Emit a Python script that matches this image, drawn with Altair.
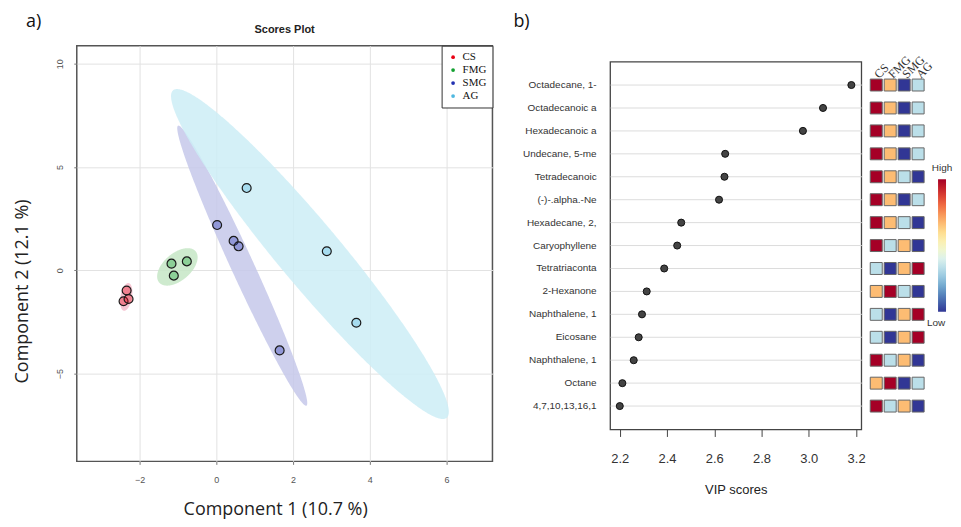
import json
import numpy as np
import pandas as pd
import altair as alt

# ---------------- data: scores plot (panel a) ----------------
groups = ["CS", "FMG", "SMG", "AG"]
group_colors = ["#e90013", "#12a030", "#2231b1", "#4fb8e0"]
ellipse_colors = ["#f4bccb", "#c6e6c6", "#c6c8ea", "#cdedf6"]

cs_pc1 = [-2.34, -2.42, -2.29]
cs_pc2 = [-0.98, -1.50, -1.39]
fmg_pc1 = [-1.17, -0.77, -1.11]
fmg_pc2 = [0.32, 0.43, -0.26]
smg_pc1 = [0.02, 0.45, 0.58, 1.65]
smg_pc2 = [2.19, 1.42, 1.16, -3.88]
ag_pc1 = [0.79, 2.88, 3.65]
ag_pc2 = [3.98, 0.92, -2.54]

x_ticks = [-2, 0, 2, 4, 6]
y_ticks = [-5, 0, 5, 10]

# ---------------- data: VIP plot (panel b) ----------------
vip_labels = ["Octadecane, 1-", "Octadecanoic a", "Hexadecanoic a", "Undecane, 5-me",
              "Tetradecanoic", "(-)-.alpha.-Ne", "Hexadecane, 2,", "Caryophyllene",
              "Tetratriaconta", "2-Hexanone", "Naphthalene, 1", "Eicosane",
              "Naphthalene, 1", "Octane", "4,7,10,13,16,1"]
vip_scores = [3.18, 3.06, 2.975, 2.646, 2.643, 2.62, 2.46, 2.443,
              2.388, 2.314, 2.294, 2.28, 2.259, 2.211, 2.20]
# relative level of each compound per group (4 = high ... 1 = low), order CS, FMG, SMG, AG
level_cs = [4, 4, 4, 4, 4, 4, 4, 4, 2, 3, 2, 2, 4, 3, 4]
level_fmg = [3, 3, 3, 3, 3, 3, 3, 2, 1, 4, 1, 1, 2, 4, 2]
level_smg = [1, 1, 1, 1, 2, 1, 2, 3, 3, 2, 3, 3, 3, 1, 3]
level_ag = [2, 2, 2, 2, 1, 2, 1, 1, 4, 1, 4, 4, 1, 2, 1]
vip_ticks = [2.2, 2.4, 2.6, 2.8, 3.0, 3.2]

# ---------------- tables ----------------
pts = pd.concat([
    pd.DataFrame({"group": g, "pc1": xs, "pc2": ys})
    for g, xs, ys in [("CS", cs_pc1, cs_pc2), ("FMG", fmg_pc1, fmg_pc2),
                      ("SMG", smg_pc1, smg_pc2), ("AG", ag_pc1, ag_pc2)]
], ignore_index=True)

# 95% confidence ellipses computed from each group's scores
K95 = 5.991
ell_rows = []
for g in groups:
    sub = pts[pts.group == g]
    xs = sub.pc1.to_numpy()
    ys = sub.pc2.to_numpy()
    cx, cy = xs.mean(), ys.mean()
    S = np.cov(xs, ys)
    sxx, syy, sxy = S[0, 0], S[1, 1], S[0, 1]
    det = sxx * syy - sxy ** 2
    hx = np.sqrt(K95 * sxx)
    for th in np.linspace(0, np.pi, 241):
        dx = hx * np.cos(th)
        r = np.sqrt(max(det * (K95 * sxx - dx * dx), 0.0))
        ell_rows.append({"group": g, "x": cx + dx,
                         "ylo": cy + (sxy * dx - r) / sxx,
                         "yhi": cy + (sxy * dx + r) / sxx})
ell = pd.DataFrame(ell_rows)

vip = pd.DataFrame({"idx": list(range(len(vip_labels))), "label": vip_labels, "vip": vip_scores})
heat = pd.concat([
    pd.DataFrame({"idx": list(range(len(vip_labels))), "group": g, "level": lv})
    for g, lv in [("CS", level_cs), ("FMG", level_fmg), ("SMG", level_smg), ("AG", level_ag)]
], ignore_index=True)

# ---------------- panel a ----------------
xsc = alt.Scale(domain=[-3.64, 7.2], nice=False, zero=False)
ysc = alt.Scale(domain=[-9.25, 10.87], nice=False, zero=False)

xax = alt.Axis(values=x_ticks, grid=True, gridColor="#e2e2e2", domain=False,
               ticks=True, tickSize=3, tickColor="#777", labelFontSize=9,
               labelColor="#555", labelPadding=11, labelFont="Liberation Sans",
               title="Component 1 (10.7 %)", titleFont="Open Sans", titleFontSize=18,
               titleFontWeight="normal", titleColor="#222", titlePadding=16, titleX=199)
yax = alt.Axis(values=y_ticks, grid=True, gridColor="#e2e2e2", domain=False,
               ticks=True, tickSize=3, tickColor="#777", labelFontSize=9,
               labelColor="#555", labelPadding=9, labelAngle=-90, labelFont="Liberation Sans",
               title="Component 2 (12.1 %)", titleFont="Open Sans", titleFontSize=18,
               titleFontWeight="normal", titleColor="#222", titlePadding=24, titleY=246)

ellipses = alt.Chart(ell).mark_area(opacity=0.85, clip=True).encode(
    x=alt.X("x:Q", scale=xsc, axis=xax),
    y=alt.Y("yhi:Q", scale=ysc, axis=yax),
    y2="ylo:Q",
    fill=alt.Fill("group:N", scale=alt.Scale(domain=groups, range=ellipse_colors),
                  legend=None),
    detail="group:N",
)
points = alt.Chart(pts).mark_circle(size=80, fillOpacity=0.35, stroke="#1a1a1a",
                                     strokeWidth=1.2, opacity=1).encode(
    x=alt.X("pc1:Q", scale=xsc),
    y=alt.Y("pc2:Q", scale=ysc),
    color=alt.Color("group:N", scale=alt.Scale(domain=groups, range=group_colors),
                    sort=groups,
                    legend=alt.Legend(orient="top-right", offset=0, title=None,
                                      strokeColor="#333", fillColor="white", padding=6,
                                      labelFont="Liberation Serif", labelFontSize=11,
                                      labelColor="#111", symbolType="circle", symbolSize=14,
                                      symbolStrokeWidth=0, symbolOpacity=1,
                                      rowPadding=1, labelOffset=4)),
)
tag_a = alt.Chart(pd.DataFrame({"t": ["a)"]})).mark_text(
    font="Open Sans", fontSize=18, align="left", baseline="middle", color="#111"
).encode(text="t:N", x=alt.value(-51), y=alt.value(-24))
title_a = alt.Chart(pd.DataFrame({"t": ["Scores Plot"]})).mark_text(
    font="Liberation Sans", fontSize=11, fontWeight="bold", align="center",
    baseline="middle", color="#222"
).encode(text="t:N", x=alt.value(208.5), y=alt.value(-16))

left = alt.layer(ellipses, points, tag_a, title_a).properties(
    width=417, height=417,
    view=alt.ViewBackground(stroke="#555", strokeWidth=1.5),
)

# ---------------- panel b ----------------
row_scale = alt.Scale(type="band", paddingInner=0.48, paddingOuter=0.76)
label_expr = json.dumps(vip_labels) + "[datum.value]"

dot_panel = alt.Chart(vip).mark_circle(size=50, color="#444", stroke="#111",
                                       strokeWidth=1, opacity=1).encode(
    x=alt.X("vip:Q", scale=alt.Scale(domain=[2.159, 3.222], nice=False, zero=False),
            axis=alt.Axis(values=vip_ticks, format=".1f", grid=False, domain=False,
                          ticks=True, tickSize=7, tickColor="#444", labelFontSize=13,
                          labelColor="#333", labelPadding=16, labelFont="Liberation Sans",
                          title="VIP scores", titleFontSize=13, titleFontWeight="normal",
                          titleFont="Liberation Sans", titleColor="#222", titlePadding=18)),
    y=alt.Y("idx:O", scale=row_scale,
            axis=alt.Axis(title=None, labelExpr=label_expr, ticks=False, domain=False,
                          grid=True, gridColor="#dcdcdc", bandPosition=0.5,
                          labelFontSize=10, labelColor="#333", labelPadding=14,
                          labelFont="Liberation Sans")),
).properties(width=252, height=369, view=alt.ViewBackground(stroke="#444", strokeWidth=1.3))

heat_cells = alt.Chart(heat).mark_rect(stroke="#666", strokeWidth=1).encode(
    x=alt.X("group:N", sort=groups,
            scale=alt.Scale(paddingInner=0.14, paddingOuter=0.07),
            axis=alt.Axis(orient="top", title=None, labelAngle=-45, labelAlign="left",
                          labelBaseline="middle", domain=False, ticks=False, tickSize=0,
                          offset=-16, labelPadding=2, labelFont="Liberation Serif",
                          labelFontSize=12, labelColor="#333", labelOffset=0)),
    y=alt.Y("idx:O", scale=row_scale, axis=None),
    color=alt.Color("level:Q",
                    scale=alt.Scale(scheme="redyellowblue", reverse=True, domain=[1, 4]),
                    legend=alt.Legend(orient="none", legendX=323, legendY=118, title="High",
                                      titleFontSize=10, titleFontWeight="normal",
                                      titleColor="#333", titleFont="Liberation Sans",
                                      titleAnchor="middle", titleAlign="center", titlePadding=6,
                                      gradientLength=133, gradientThickness=8,
                                      gradientStrokeWidth=0, direction="vertical",
                                      values=[1, 4], labelExpr="''", labelFontSize=1,
                                      labelOffset=0, padding=0)),
)
low_tag = alt.Chart(pd.DataFrame({"t": ["Low"]})).mark_text(
    font="Liberation Sans", fontSize=10, align="center", baseline="middle", color="#333"
).encode(text="t:N", x=alt.value(67), y=alt.value(262))

heat_panel = alt.layer(heat_cells, low_tag).properties(
    width=56, height=369, view=alt.ViewBackground(stroke=None))

tag_b = alt.Chart(pd.DataFrame({"t": ["b)"]})).mark_text(
    font="Open Sans", fontSize=18, align="left", baseline="middle", color="#111"
).encode(text="t:N", x=alt.value(-97), y=alt.value(-24)).properties(
    width=1, height=1, view=alt.ViewBackground(stroke=None))

right = alt.vconcat(tag_b, alt.hconcat(dot_panel, heat_panel, spacing=8, bounds="flush"),
                    spacing=15, bounds="flush")

chart = alt.hconcat(left, right, spacing=19).properties(
    padding={"left": 5, "top": 3, "right": 0, "bottom": 0}
).configure(background="white")

chart.save("out.html", embed_options={"renderer": "svg", "actions": False})
